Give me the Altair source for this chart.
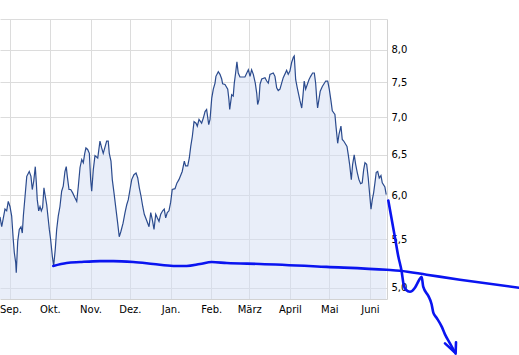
import altair as alt
import pandas as pd

START = pd.Timestamp("2011-08-24")

# price series: days since START, closing price
DAYS = [0.0, 1.3, 3.8, 5.1, 6.3, 7.6, 8.9, 10.1, 10.9, 12.0,
        12.4, 13.5, 14.7, 16.0, 17.0, 17.8, 19.1, 20.4, 22.3, 23.6,
        24.6, 25.7, 26.9, 27.7, 28.4, 29.5, 30.5, 31.5, 32.5, 33.5,
        34.5, 35.6, 37.6, 38.6, 39.9, 40.9, 42.1, 43.2, 44.4, 45.7,
        47.0, 48.2, 49.5, 50.5, 51.3, 52.6, 53.9, 55.4, 57.2, 58.5,
        59.7, 61.0, 62.3, 63.5, 64.6, 65.5, 66.8, 68.1, 69.1, 69.9,
        71.1, 72.4, 74.5, 76.2, 77.5, 78.7, 81.3, 82.5, 83.3, 84.6,
        85.6, 86.9, 88.4, 89.7, 90.9, 92.2, 93.8, 95.3, 96.6, 97.8,
        99.1, 100.4, 102.1, 103.7, 105.0, 106.2, 107.5, 108.8, 110.0, 111.3,
        113.6, 114.9, 116.1, 117.4, 118.7, 119.9, 121.2, 122.5, 124.0, 125.2,
        126.3, 127.5, 128.8, 130.1, 131.3, 133.4, 134.9, 136.4, 138.9, 140.5,
        141.5, 143.1, 144.3, 145.4, 146.6, 147.9, 149.4, 150.4, 151.7, 153.7,
        155.0, 156.3, 157.5, 159.1, 160.1, 161.4, 162.6, 163.9, 164.6, 166.4,
        167.7, 169.0, 169.7, 171.5, 173.6, 174.5, 175.1, 176.6, 177.8, 178.6,
        179.6, 180.6, 181.6, 182.9, 186.7, 189.3, 190.6, 191.8, 193.1, 194.6,
        195.7, 196.4, 197.4, 198.2, 199.5, 202.0, 203.3, 204.5, 205.8, 208.3,
        209.6, 210.9, 212.1, 213.4, 214.7, 215.9, 218.5, 219.7, 221.0, 222.3,
        223.6, 224.3, 225.4, 226.6, 228.7, 230.0, 230.9, 231.9, 233.0, 235.5,
        236.8, 238.3, 239.6, 240.6, 241.4, 242.1, 243.1, 244.1, 245.7, 248.3,
        249.8, 251.0, 252.3, 253.3, 255.3, 256.1, 257.4, 258.4, 259.9, 260.9,
        262.0, 264.5, 265.5, 266.5, 267.8, 268.8, 270.0, 271.1, 272.3, 273.6,
        274.9, 276.1, 277.2, 278.2, 279.5, 280.7, 281.8, 282.8, 283.8, 284.8,
        285.8, 286.8, 287.9, 289.1, 290.4, 291.4, 293.4, 294.4]
PRICES = [5.75, 5.64, 5.84, 5.82, 5.93, 5.87, 5.76, 5.50, 5.36, 5.25,
          5.15, 5.48, 5.61, 5.64, 5.57, 5.76, 5.99, 6.23, 6.29, 6.23,
          6.07, 6.17, 6.35, 6.15, 5.95, 5.82, 5.87, 5.82, 5.86, 6.09,
          5.99, 5.89, 5.61, 5.50, 5.32, 5.22, 5.39, 5.61, 5.76, 5.87,
          6.05, 6.11, 6.29, 6.35, 6.23, 6.07, 6.07, 6.03, 5.97, 5.93,
          6.11, 6.34, 6.44, 6.40, 6.52, 6.59, 6.57, 6.52, 6.19, 6.05,
          6.31, 6.49, 6.46, 6.68, 6.59, 6.52, 6.68, 6.68, 6.52, 6.42,
          6.19, 6.03, 5.84, 5.68, 5.53, 5.59, 5.68, 5.80, 5.89, 5.95,
          6.07, 6.19, 6.25, 6.27, 6.21, 6.09, 5.99, 5.87, 5.78, 5.73,
          5.64, 5.80, 5.72, 5.61, 5.78, 5.74, 5.70, 5.78, 5.82, 5.84,
          5.74, 5.80, 5.82, 5.92, 6.07, 6.08, 6.15, 6.19, 6.29, 6.42,
          6.36, 6.36, 6.46, 6.61, 6.74, 6.94, 6.92, 6.88, 6.97, 6.92,
          6.99, 7.08, 7.11, 6.90, 6.97, 7.27, 7.40, 7.49, 7.59, 7.66,
          7.62, 7.55, 7.48, 7.47, 7.40, 7.25, 7.11, 7.32, 7.30, 7.49,
          7.64, 7.81, 7.64, 7.58, 7.58, 7.69, 7.59, 7.69, 7.62, 7.49,
          7.34, 7.18, 7.25, 7.47, 7.55, 7.57, 7.52, 7.49, 7.62, 7.64,
          7.59, 7.42, 7.38, 7.40, 7.49, 7.57, 7.68, 7.62, 7.67, 7.80,
          7.88, 7.90, 7.54, 7.42, 7.23, 7.13, 7.30, 7.52, 7.40, 7.54,
          7.59, 7.64, 7.64, 7.49, 7.27, 7.13, 7.25, 7.37, 7.44, 7.52,
          7.52, 7.40, 7.23, 7.09, 7.04, 6.88, 6.65, 6.77, 6.88, 6.70,
          6.68, 6.61, 6.50, 6.38, 6.19, 6.38, 6.50, 6.38, 6.28, 6.19,
          6.14, 6.15, 6.31, 6.40, 6.38, 6.21, 6.01, 5.84, 5.95, 6.03,
          6.15, 6.28, 6.29, 6.21, 6.24, 6.15, 6.10, 6.01]

# hand-drawn annotations (days since START, price level)
TREND_DAYS = [40.6, 50.8, 61.0, 76.2, 86.4, 101.6, 116.8, 132.1, 142.3, 152.4,
              161.4, 172.8, 198.2, 249.0, 294.7, 304.9, 325.2, 350.6, 395.6]
TREND_PRICES = [5.22, 5.25, 5.26, 5.27, 5.27, 5.26, 5.24, 5.22, 5.22, 5.24,
                5.26, 5.25, 5.24, 5.21, 5.18, 5.17, 5.13, 5.08, 5.00]
ARROW_DAYS = [296.0, 298.6, 301.1, 303.6, 306.2, 307.4, 309.4, 312.5, 316.3, 319.6,
              321.4, 322.6, 326.5, 329.0, 330.3, 332.9, 336.7, 339.2, 343.0, 346.8]
ARROW_PRICES = [5.94, 5.72, 5.52, 5.32, 5.16, 5.05, 4.98, 4.96, 5.00, 5.08,
                5.11, 5.01, 4.92, 4.84, 4.76, 4.71, 4.63, 4.56, 4.48, 4.40]
BARB1_DAYS = [339.2, 346.8]
BARB1_PRICES = [4.48, 4.40]
BARB2_DAYS = [347.6, 347.3]
BARB2_PRICES = [4.49, 4.39]

MONTHS = ["Jan.", "Feb.", "März", "April", "Mai", "Juni",
          "Juli", "Aug.", "Sep.", "Okt.", "Nov.", "Dez."]
TICK_MONTHS = [(2011, 9), (2011, 10), (2011, 11), (2011, 12), (2012, 1),
               (2012, 2), (2012, 3), (2012, 4), (2012, 5), (2012, 6)]
Y_TICKS = [5.0, 5.5, 6.0, 6.5, 7.0, 7.5, 8.0, 8.5]
Y_MIN, Y_MAX = 4.89, 8.5

assert len(DAYS) == len(PRICES)


def to_dates(days):
    return START + pd.to_timedelta(days, unit="D")


series = pd.DataFrame({"date": to_dates(DAYS), "price": PRICES})

ann_parts = []
for seg, (d, p) in enumerate([(TREND_DAYS, TREND_PRICES), (ARROW_DAYS, ARROW_PRICES),
                              (BARB1_DAYS, BARB1_PRICES), (BARB2_DAYS, BARB2_PRICES)]):
    ann_parts.append(pd.DataFrame({"date": to_dates(d), "price": p,
                                   "seg": seg, "i": range(len(d))}))
ann = pd.concat(ann_parts, ignore_index=True)

month_expr = "[" + ",".join("'%s'" % m for m in MONTHS) + "][month(datum.value)]"

x_enc = alt.X(
    "date:T",
    title=None,
    scale=alt.Scale(domain=[alt.DateTime(year=2011, month=8, date=24),
                            alt.DateTime(year=2012, month=6, date=14)]),
    axis=alt.Axis(values=[alt.DateTime(year=y, month=m, date=1) for y, m in TICK_MONTHS],
                  labelExpr=month_expr, grid=True, labelPadding=5,
                  labelFlush=False, labelOverlap=False),
)
y_enc = alt.Y(
    "price:Q",
    title=None,
    scale=alt.Scale(type="log", domain=[Y_MIN, Y_MAX], nice=False, zero=False),
    axis=alt.Axis(orient="right", values=Y_TICKS, grid=True, labelPadding=4,
                  labelAlign="left", labelFlush=False, labelOverlap=False,
                  labelExpr="datum.value > 8.25 ? '' : replace(format(datum.value, '.1f'), '.', ',')"),
)

area = alt.Chart(series).mark_area(color="#d3ddf3", opacity=0.5).encode(
    x=x_enc, y=y_enc, y2=alt.datum(Y_MIN)
)
line = alt.Chart(series).mark_line(color="#2b4b8e", strokeWidth=1.2).encode(
    x=x_enc, y=y_enc
)
annot = alt.Chart(ann).mark_line(color="#0a14f0", strokeWidth=2.6, clip=False,
                                 interpolate="monotone", strokeCap="round",
                                 strokeJoin="round").encode(
    x=x_enc, y=y_enc, detail="seg:N", order="i:Q"
)

chart = (
    alt.layer(area, line, annot)
    .properties(width=387, height=280,
                autosize=alt.AutoSizeParams(type="none"),
                padding={"left": 0, "top": 19, "right": 132, "bottom": 56},
                background="#ffffff")
    .configure_view(strokeWidth=0)
    .configure_axis(labelFont="DejaVu Sans", labelFontSize=10, labelColor="#000000",
                    gridColor="#dcdcdc", gridWidth=1, domainColor="#d2d2d2",
                    ticks=False, tickSize=0)
)

chart.save("out.html", embed_options={"renderer": "svg", "actions": False})
